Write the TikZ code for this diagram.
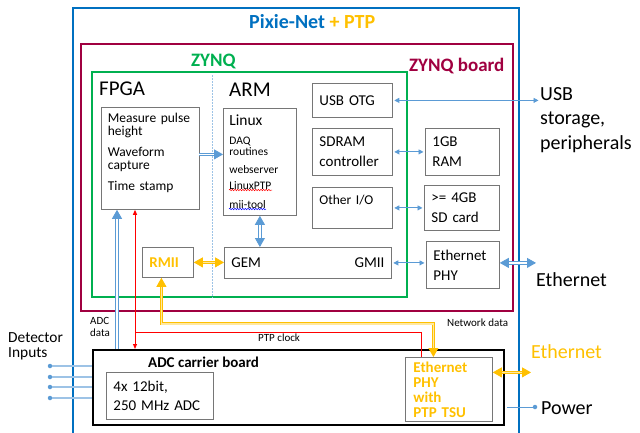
\documentclass[tikz,border=0pt]{standalone}
\usepackage{fontspec}
\setmainfont{Carlito}
\usepackage{xcolor}
\usepackage{tikz}
\usetikzlibrary{arrows.meta,positioning,decorations.pathmorphing}

\definecolor{pnblue}{RGB}{0,112,192}
\definecolor{ptporange}{RGB}{255,192,0}
\definecolor{ptplight}{RGB}{255,232,160}
\definecolor{zynqgreen}{RGB}{0,176,80}
\definecolor{boardred}{RGB}{160,0,64}
\definecolor{linkblue}{RGB}{91,155,213}
\definecolor{inblue}{RGB}{157,195,230}
\definecolor{boxgray}{RGB}{118,118,118}

\begin{document}
\begin{tikzpicture}[
    x=1pt, y=-1pt,
    box/.style={draw=boxgray, line width=0.8pt, anchor=north west, inner xsep=7pt, inner ysep=0pt, align=left, font=\fontsize{15}{20}\selectfont},
    frame/.style={anchor=north west, inner sep=0pt, line width=1.5pt},
    lbl/.style={inner sep=0pt, anchor=base west, align=left},
    arrow/.style={linkblue, line width=0.9pt, {Triangle[length=5pt,width=5pt]}-{Triangle[length=5pt,width=5pt]}, shorten <=1.5pt, shorten >=1.5pt},
    dblblue/.style={draw=linkblue, double=white, double distance=1.6pt, line width=0.8pt},
    dblorange/.style={draw=ptporange, double=ptplight, double distance=1.6pt, line width=0.8pt},
    ptpclock/.style={red, line width=1pt},
    spell/.style={line width=0.5pt, decorate, decoration={snake, amplitude=0.7pt, segment length=2.6pt}},
    dot/.style={circle, fill=linkblue, inner sep=0pt, minimum size=4.5pt}
  ]
  \useasboundingbox (0,0) rectangle (640,432);

  % Pixie-Net frame (open at the bottom)
  \draw[pnblue, line width=2pt] (73,440) |- (519,8) -- (519,440);
  \node[lbl, font=\bfseries\fontsize{20}{22}\selectfont] (title) at (249,28) {\textcolor{pnblue}{Pixie-Net} \textcolor{ptporange}{+ PTP}};

  % ZYNQ board and ZYNQ chip
  \node[frame, draw=boardred, minimum width=432pt, minimum height=267pt] (zboard) at (80,43) {};
  \node[lbl, font=\bfseries\fontsize{19}{22}\selectfont, text=boardred] (zboardlbl) at (409,71.5) {ZYNQ board};
  \node[frame, draw=zynqgreen, minimum width=315pt, minimum height=225pt] (zynq) at (91,71) {};
  \node[lbl, font=\bfseries\fontsize{19}{22}\selectfont, text=zynqgreen] (zynqlbl) at (191,66) {ZYNQ};
  \draw[inblue, line width=0.8pt, dash pattern=on 1.5pt off 1.5pt, shorten <=4pt]
    ([xshift=121pt]zynq.north west) -- ([xshift=121pt]zynq.south west);

  \node[lbl, font=\fontsize{21}{24}\selectfont] (fpgalbl) at (99,95.5) {FPGA};
  \node[lbl, font=\fontsize{21}{24}\selectfont] (armlbl) at (229,96) {ARM};

  % FPGA and ARM blocks
  \node[box, text width=84pt, minimum height=102pt, font=\fontsize{13.5}{13.5}\selectfont] (fpga) at (100.5,107)
    {Measure pulse\\height\\[7pt]Waveform\\capture\\[7.5pt]Time stamp\\ \mbox{}};
  \node[box, inner xsep=6pt, text width=61pt, minimum height=107pt, font=\fontsize{11.5}{11}\selectfont] (linux) at (223,108)
    {{\fontsize{15.5}{17}\selectfont Linux}\\[8pt]DAQ\\routines\\[6.5pt]webserver\\[5pt]LinuxPTP\\[8pt]mii-tool};
  \draw[red, spell] ([xshift=6pt,yshift=-82pt]linux.north west) -- ++(43,0);
  \draw[blue, spell] ([xshift=6pt,yshift=-101pt]linux.north west) -- ++(37,0);

  \node[box, text width=66pt, minimum height=34pt] (usbotg) at (312,83) {USB OTG};
  \node[box, text width=66pt, minimum height=47pt] (sdram) at (312,128) {SDRAM\\controller};
  \node[box, text width=66pt, minimum height=41pt, font=\fontsize{13.5}{16}\selectfont] (otherio) at (312,187) {Other I/O\\ \mbox{}};
  \node[box, text width=153pt, minimum height=31pt] (gem) at (224,247) {GEM\hfill GMII\hspace*{9pt}};
  \node[box, text width=37pt, minimum height=30pt, text=ptporange, font=\bfseries\fontsize{15}{18}\selectfont] (rmii) at (142,247) {RMII};

  % memory and PHY on the board
  \node[box, text width=60pt, minimum height=47pt] (ram) at (425,128) {1GB\\RAM};
  \node[box, text width=61pt, minimum height=45pt] (sdcard) at (424,185) {>= 4GB\\SD card};
  \node[box, text width=59pt, minimum height=47pt] (ethphy) at (426,241) {Ethernet\\PHY};

  % ADC carrier board
  \node[frame, draw=black, minimum width=411pt, minimum height=75pt] (adcboard) at (92,349) {};
  \node[lbl, font=\bfseries\fontsize{15}{18}\selectfont] (adctitle) at (148,367) {ADC carrier board};
  \node[box, text width=93pt, minimum height=47pt, font=\fontsize{15}{19}\selectfont] (adc) at (106,372) {4x 12bit,\\250 MHz ADC};
  \node[box, inner xsep=8pt, text width=71pt, minimum height=64pt, text=ptporange, font=\bfseries\fontsize{15}{15}\selectfont] (tsu) at (405,357)
    {Ethernet\\PHY\\with\\PTP TSU};

  % outside labels (multi-line ones sit on their last line)
  \node[lbl, font=\fontsize{20}{24.5}\selectfont] (usblbl) at (540,149) {USB\\storage,\\peripherals};
  \node[lbl, font=\fontsize{20}{24}\selectfont] (ethlbl) at (536,286) {Ethernet};
  \node[lbl, font=\fontsize{20}{24}\selectfont, text=ptporange] (ethorng) at (531,358) {Ethernet};
  \node[lbl, font=\fontsize{20}{24}\selectfont] (pwrlbl) at (541,414) {Power};
  \node[lbl, font=\fontsize{15.4}{15}\selectfont] (detlbl) at (8,357.7) {Detector\\Inputs};
  \node[lbl, font=\fontsize{11}{12}\selectfont] (adcdata) at (90,336) {ADC\\data};
  \node[lbl, font=\fontsize{11}{12}\selectfont] (clklbl) at (258,341.7) {PTP clock};
  \node[lbl, font=\fontsize{11}{12}\selectfont] (netlbl) at (447,326.7) {Network data};

  % Connectors
  \draw[arrow] (usbotg.east) -- (usbotg.east -| usblbl.west);
  \draw[arrow] (sdram.east) -- (sdram.east -| ram.west);
  \draw[arrow] (otherio.east) -- (otherio.east -| sdcard.west);
  \draw[arrow] (gem.east) -- (gem.east -| ethphy.west);

  \draw[dblblue, -{Triangle[length=9pt,width=10pt]}] ([yshift=4pt]fpga.east) -- ([yshift=4pt]fpga.east -| linux.west);
  \draw[dblblue, {Triangle[length=9pt,width=10pt]}-{Triangle[length=9pt,width=10pt]}] (linux.south) -- (linux.south |- gem.north);
  \draw[dblblue, {Triangle[length=9pt,width=10pt]}-{Triangle[length=9pt,width=10pt]}] ([yshift=2pt]ethphy.east) -- ([yshift=2pt]ethphy.east -| ethlbl.west);
  \draw[dblblue, -{Triangle[length=9pt,width=10pt]}] ([xshift=25pt]adcboard.north west) -- ([xshift=25pt]adcboard.north west |- fpga.south);

  \draw[dblorange, {Triangle[length=9pt,width=10pt]}-{Triangle[length=9pt,width=10pt]}] (rmii.east) -- (rmii.east -| gem.west);
  \draw[dblorange, {Triangle[length=9pt,width=10pt]}-{Triangle[length=9pt,width=10pt]}] ([yshift=17pt]tsu.east) -- ([yshift=17pt]tsu.east -| ethorng.west);
  \coordinate (netbend) at ([xshift=-6.5pt,yshift=-46pt]rmii.south);
  \draw[dblorange, {Triangle[length=9pt,width=10pt]}-{Triangle[length=9pt,width=10pt]}] ([xshift=-6.5pt]rmii.south) -- (netbend) -| ([xshift=-15.5pt]tsu.north);

  \draw[ptpclock, {Triangle[length=5pt,width=4pt]}-{Triangle[length=5pt,width=4pt]}] ([xshift=43pt]adcboard.north west) -- ([xshift=43pt]adcboard.north west |- fpga.south);
  \coordinate (clk) at ([xshift=43pt,yshift=17pt]adcboard.north west);
  \draw[ptpclock] (clk) -| ([xshift=-27.5pt]tsu.north);

  % detector inputs and power
  \foreach \yy [count=\i] in {366,377,387,398} {
    \node[dot] (in\i) at (50,\yy) {};
    \draw[inblue, line width=1.1pt] (in\i) -- (in\i -| adcboard.west);
  }
  \node[dot] (pwrdot) at (535,407) {};
  \draw[linkblue, line width=0.9pt] (pwrdot) -- ([xshift=2pt]pwrdot -| adcboard.east);

\end{tikzpicture}
\end{document}
